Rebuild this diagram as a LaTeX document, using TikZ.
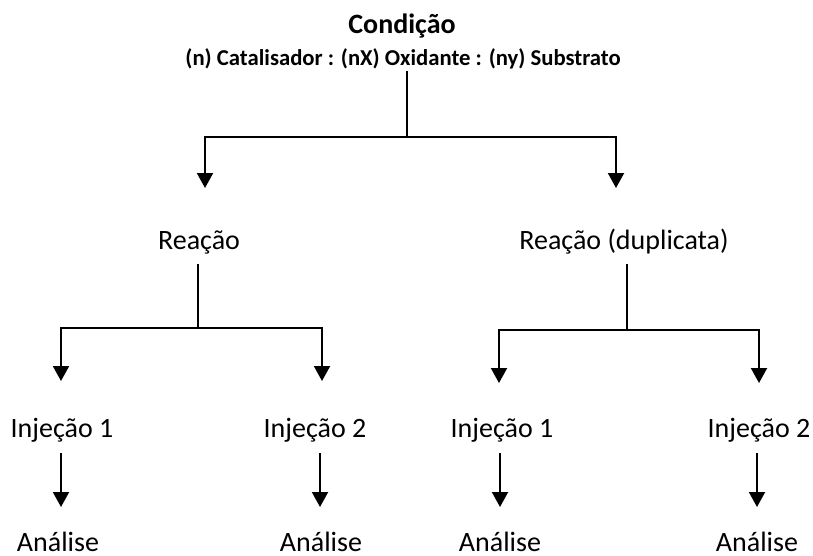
\documentclass[tikz,border=0pt]{standalone}
\usepackage{fontspec}
\setmainfont{Carlito}
\usetikzlibrary{arrows.meta}

\tikzset{
  lbl/.style={font=\fontsize{28}{32}\selectfont, inner sep=0pt, anchor=base},
  ttl/.style={lbl, font=\bfseries\fontsize{28}{32}\selectfont},
  sublbl/.style={lbl, font=\bfseries\fontsize{22.7}{26}\selectfont},
  wire/.style={line width=2pt},
  arr/.style={wire, -{Triangle[width=16pt,length=15pt]}},
}

\begin{document}
\begin{tikzpicture}[x=1pt, y=-1pt]
  \useasboundingbox (0,0) rectangle (813,555);
  \clip (0,0) rectangle (813,555);

  % texts
  \node[ttl] (cond) at (402,33) {Condição};
  \node[sublbl] (ratio) at (403,65) {(n) Catalisador : (nX) Oxidante : (ny) Substrato};

  \node[lbl] (reac) at (199,249) {Reação};
  \node[lbl] (reacd) at (624,249) {Reação (duplicata)};

  \node[lbl] (inj11) at (62,437) {Injeção 1};
  \node[lbl] (inj12) at (315,437) {Injeção 2};
  \node[lbl] (inj21) at (502,437) {Injeção 1};
  \node[lbl] (inj22) at (759,437) {Injeção 2};

  \node[lbl] (an11) at (58,551) {Análise};
  \node[lbl] (an12) at (321,551) {Análise};
  \node[lbl] (an21) at (500,551) {Análise};
  \node[lbl] (an22) at (757,551) {Análise};

  % branch points and arrow tips
  \coordinate (b0) at (407,137);
  \coordinate (t1) at (205,188);
  \coordinate (t2) at (616,188);
  \coordinate (b1) at (198,328);
  \coordinate (t11) at (61,381);
  \coordinate (t12) at (322,381);
  \coordinate (b2) at (627,330);
  \coordinate (t21) at (499,383);
  \coordinate (t22) at (759,383);
  \coordinate (e11) at (61,507);
  \coordinate (e12) at (320,507);
  \coordinate (e21) at (500,507);
  \coordinate (e22) at (757,507);

  % condition -> reactions
  \draw[wire, shorten <=2pt] (ratio.south -| b0) -- (b0);
  \draw[arr] (b0) -| (t1);
  \draw[arr] (b0) -| (t2);

  % reaction -> injections
  \draw[wire, shorten <=10pt] (reac.south -| b1) -- (b1);
  \draw[arr] (b1) -| (t11);
  \draw[arr] (b1) -| (t12);

  \draw[wire, shorten <=10pt] (reacd.south -| b2) -- (b2);
  \draw[arr] (b2) -| (t21);
  \draw[arr] (b2) -| (t22);

  % injections -> analyses
  \draw[arr, shorten <=11pt] (inj11.south -| e11) -- (e11);
  \draw[arr, shorten <=11pt] (inj12.south -| e12) -- (e12);
  \draw[arr, shorten <=11pt] (inj21.south -| e21) -- (e21);
  \draw[arr, shorten <=11pt] (inj22.south -| e22) -- (e22);
\end{tikzpicture}
\end{document}
